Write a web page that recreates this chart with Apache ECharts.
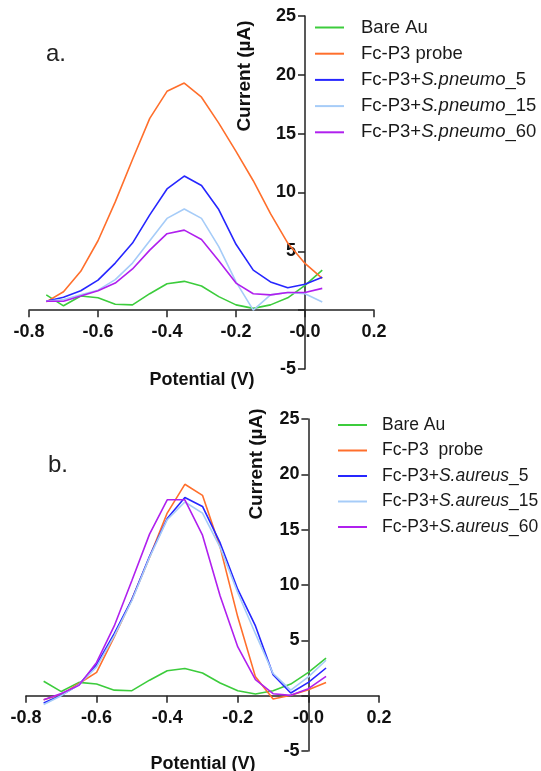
<!DOCTYPE html>
<html>
<head>
<meta charset="utf-8">
<script src="https://cdn.jsdelivr.net/npm/echarts@6/dist/echarts.min.js"></script>
<style>
  html, body { margin: 0; padding: 0; background: #fff; }
  #chart { width: 541px; height: 771px; }
</style>
</head>
<body>
<div id="chart"></div>
<script>
// Potential steps (V)
const potential = [-0.75, -0.70, -0.65, -0.60, -0.55, -0.50, -0.45, -0.40, -0.35,
                   -0.30, -0.25, -0.20, -0.15, -0.10, -0.05, 0.00, 0.05];

// Current (µA), panel a
const bareAu = [1.3, 0.37, 1.2, 1.05, 0.5, 0.45, 1.4, 2.25, 2.45, 2.05, 1.15, 0.45, 0.15, 0.45, 1.05, 2.1, 3.4];
const probeA = [0.7, 1.56, 3.3, 5.9, 9.2, 12.8, 16.3, 18.6, 19.3, 18.1, 15.9, 13.5, 11.0, 8.2, 5.7, 3.97, 2.7];
const pneumo5 = [0.76, 1.1, 1.65, 2.55, 4.0, 5.7, 8.1, 10.3, 11.4, 10.6, 8.55, 5.6, 3.4, 2.4, 1.9, 2.2, 2.8];
const pneumo15 = [0.76, 0.9, 1.3, 1.7, 2.6, 4.0, 5.9, 7.8, 8.6, 7.8, 5.4, 2.4, 0.0, 1.3, 1.5, 1.4, 0.7];
const pneumo60 = [0.76, 0.76, 1.2, 1.65, 2.3, 3.5, 5.1, 6.5, 6.8, 6.0, 4.2, 2.3, 1.4, 1.3, 1.5, 1.5, 1.85];

// Current (µA), panel b
const probeB = [-0.36, 0.1, 1.1, 2.1, 5.3, 8.7, 12.5, 16.5, 19.1, 18.1, 13.4, 7.1, 1.7, -0.3, 0.03, 0.54, 1.2];
const aureus5 = [-0.66, 0.03, 1.0, 2.8, 5.6, 8.7, 12.6, 16.0, 17.9, 17.1, 13.8, 9.6, 6.3, 1.9, 0.24, 1.2, 2.5];
const aureus15 = [-0.8, 0.0, 1.0, 2.6, 5.4, 8.6, 12.5, 15.9, 17.5, 16.5, 13.4, 9.3, 5.6, 2.0, 0.5, 1.7, 3.2];
const aureus60 = [-0.36, 0.2, 0.93, 3.0, 6.3, 10.4, 14.6, 17.7, 17.7, 14.5, 9.0, 4.4, 1.45, 0.18, 0.03, 0.63, 1.74];

// Axis ranges and ticks
const xMin = -0.8, xMax = 0.2, xStep = 0.2;
const yMin = -5, yMax = 25, yStep = 5;

// Legend names
const namesA = ['Bare Au', 'Fc-P3 probe', 'Fc-P3+S.pneumo_5', 'Fc-P3+S.pneumo_15', 'Fc-P3+S.pneumo_60'];
const namesB = ['Bare Au', 'Fc-P3  probe', 'Fc-P3+S.aureus_5', 'Fc-P3+S.aureus_15', 'Fc-P3+S.aureus_60'];

const colors = ['#3ccc3c', '#ff6f2c', '#2626ff', '#a6ccf8', '#b020ee'];
const axisColor = '#222';
const font = '"Liberation Sans", Arial, sans-serif';

const W = 541, H = 771;
const grids = [
  { left: 29, right: 167, top: 16, bottom: 402 },
  { left: 26, right: 162, top: 419, bottom: 20 }
];

const pair = ys => potential.map((x, i) => [x, ys[i]]);

// Axes cross at the origin: shift each axis from the grid edge to the zero line.
function xAxisFor(gi) {
  const g = grids[gi];
  const h = H - g.top - g.bottom;
  const shift = h * (0 - yMin) / (yMax - yMin);
  return {
    type: 'value', gridIndex: gi, min: xMin, max: xMax, interval: xStep,
    position: 'bottom', offset: -shift,
    axisLine: { onZero: false, lineStyle: { color: axisColor, width: 1.5 } },
    axisTick: { show: true, inside: false, length: 7, lineStyle: { color: axisColor, width: 1.5 } },
    axisLabel: {
      margin: 13, color: '#111', fontFamily: font, fontWeight: 'bold', fontSize: 18,
      formatter: v => (Math.abs(v) < 1e-9 ? '-0.0' : v.toFixed(1))
    },
    splitLine: { show: false }
  };
}
function yAxisFor(gi) {
  const g = grids[gi];
  const w = W - g.left - g.right;
  const shift = w * (0 - xMin) / (xMax - xMin);
  return {
    type: 'value', gridIndex: gi, min: yMin, max: yMax, interval: yStep,
    position: 'left', offset: -shift,
    axisLine: { show: true, onZero: false, lineStyle: { color: axisColor, width: 1.5 } },
    axisTick: { show: true, inside: false, length: 7, lineStyle: { color: axisColor, width: 1.5 } },
    axisLabel: {
      margin: 9, color: '#111', fontFamily: font, fontWeight: 'bold', fontSize: 18,
      formatter: v => (v === 0 ? '' : String(v))
    },
    splitLine: { show: false }
  };
}

function legendFormatter(name) {
  const m = name.match(/^(Fc-P3\+)(S\.[a-z]+)(_\d+)$/);
  if (m) return '{n|' + m[1] + '}{i|' + m[2] + '}{n|' + m[3] + '}';
  return '{n|' + name + '}';
}
function legendFor(names, left, top, gap, size, itemGap) {
  return {
    data: names, orient: 'vertical', left, top,
    icon: 'rect', itemWidth: 29, itemHeight: 2, itemGap,
    selectedMode: false,
    formatter: legendFormatter,
    textStyle: {
      padding: [0, 0, 0, gap],
      rich: {
        n: { fontFamily: font, fontSize: size, color: '#1a1a1a' },
        i: { fontFamily: font, fontSize: size, color: '#1a1a1a', fontStyle: 'italic' }
      }
    }
  };
}

function lineSeries(name, ys, color, idx) {
  return {
    name, type: 'line', xAxisIndex: idx, yAxisIndex: idx,
    data: pair(ys), symbol: 'none', smooth: false,
    lineStyle: { color, width: 1.6 }, itemStyle: { color },
    animation: false
  };
}

const seriesA = [bareAu, probeA, pneumo5, pneumo15, pneumo60];
const seriesB = [bareAu, probeB, aureus5, aureus15, aureus60];

const option = {
  backgroundColor: '#fff',
  animation: false,
  grid: grids,
  xAxis: [xAxisFor(0), xAxisFor(1)],
  yAxis: [yAxisFor(0), yAxisFor(1)],
  legend: [
    legendFor(namesA, 310, 13, 12, 18.5, 7.2),
    legendFor(namesB, 333, 411, 10, 17.5, 7.5)
  ],
  series: [
    ...namesA.map((n, i) => lineSeries(n, seriesA[i], colors[i], 0)),
    ...namesB.map((n, i) => lineSeries(n, seriesB[i], colors[i], 1))
  ],
  graphic: [
    { type: 'text', left: 46, top: 42, style: { text: 'a.', fontFamily: font, fontSize: 24, fill: '#222' } },
    { type: 'text', left: 48, top: 453, style: { text: 'b.', fontFamily: font, fontSize: 24, fill: '#222' } },
    { type: 'text', x: 245, y: 76, rotation: Math.PI / 2,
      style: { text: 'Current (µA)', fontFamily: font, fontWeight: 'bold', fontSize: 19, fill: '#111', align: 'center', verticalAlign: 'middle' } },
    { type: 'text', x: 257, y: 464, rotation: Math.PI / 2,
      style: { text: 'Current (µA)', fontFamily: font, fontWeight: 'bold', fontSize: 19, fill: '#111', align: 'center', verticalAlign: 'middle' } },
    { type: 'text', x: 202, y: 380,
      style: { text: 'Potential (V)', fontFamily: font, fontWeight: 'bold', fontSize: 18, fill: '#111', align: 'center', verticalAlign: 'middle' } },
    { type: 'text', x: 203, y: 764,
      style: { text: 'Potential (V)', fontFamily: font, fontWeight: 'bold', fontSize: 18, fill: '#111', align: 'center', verticalAlign: 'middle' } }
  ]
};

const chart = echarts.init(document.getElementById('chart'), null, { renderer: 'canvas' });
chart.setOption(option);
</script>
</body>
</html>
